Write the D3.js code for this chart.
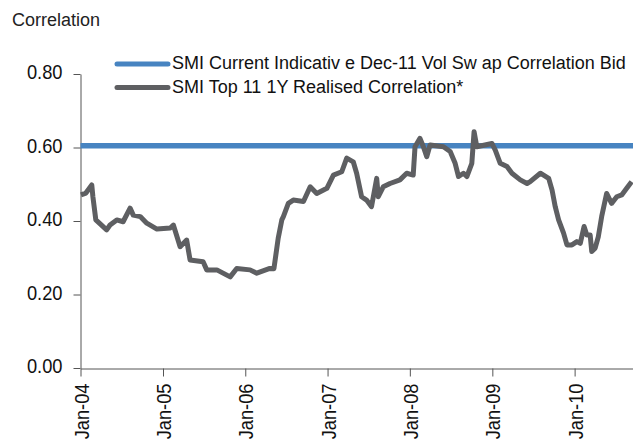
<!DOCTYPE html>
<html lang="en">
<head>
<meta charset="utf-8">
<script src="https://d3js.org/d3.v7.min.js"></script>
<style>
body { margin: 0; background: #fff; }
.axis text { font: 21px "Liberation Sans", Arial, sans-serif; fill: #111; }
.axis path, .axis line { stroke: #555; }
.legend text { font: 18px "Liberation Sans", Arial, sans-serif; fill: #111; }
</style>
</head>
<body>
<svg width="633" height="442"></svg>
<script>
// realised correlation
var realDates = ["2004-01-03","2004-01-25","2004-02-20","2004-02-25","2004-03-09","2004-04-26","2004-05-11",
  "2004-06-10","2004-07-08","2004-08-08","2004-08-22","2004-09-22","2004-10-21","2004-12-05","2005-02-02",
  "2005-02-16","2005-03-18","2005-04-16","2005-05-01","2005-06-28","2005-07-14","2005-08-28","2005-10-26",
  "2005-11-24","2006-01-22","2006-02-21","2006-04-20","2006-05-08","2006-05-27","2006-06-12","2006-06-19",
  "2006-07-11","2006-08-02","2006-09-16","2006-10-16","2006-11-14","2006-12-29","2007-01-27","2007-03-05",
  "2007-03-27","2007-04-25","2007-05-10","2007-06-01","2007-06-23","2007-07-15","2007-08-07","2007-08-14",
  "2007-09-05","2007-10-05","2007-11-18","2007-12-18","2008-01-16","2008-01-24","2008-02-15","2008-03-01",
  "2008-03-16","2008-03-31","2008-05-29","2008-06-28","2008-07-20","2008-08-04","2008-08-26","2008-09-10",
  "2008-10-02","2008-10-12","2008-10-24","2008-12-30","2009-01-14","2009-02-05","2009-03-07","2009-03-29",
  "2009-05-05","2009-06-04","2009-06-18","2009-08-02","2009-09-08","2009-09-23","2009-10-07","2009-10-22",
  "2009-11-13","2009-11-28","2009-12-20","2010-01-11","2010-01-26","2010-02-12","2010-02-24","2010-03-11",
  "2010-03-18","2010-04-02","2010-04-16","2010-05-01","2010-05-23","2010-06-14","2010-07-07","2010-07-29",
  "2010-08-20","2010-09-11"];
var realValues = [0.471,0.476,0.498,0.466,0.403,0.376,0.389,
  0.403,0.398,0.435,0.416,0.412,0.394,0.378,0.381,
  0.389,0.330,0.348,0.294,0.289,0.267,0.267,0.248,
  0.271,0.267,0.258,0.271,0.270,0.353,0.403,0.412,
  0.448,0.457,0.453,0.493,0.475,0.489,0.525,0.534,
  0.571,0.561,0.530,0.466,0.457,0.439,0.516,0.466,
  0.493,0.502,0.512,0.530,0.525,0.602,0.625,0.602,
  0.575,0.607,0.602,0.589,0.557,0.521,0.530,0.521,
  0.557,0.643,0.602,0.611,0.593,0.557,0.548,0.530,
  0.512,0.502,0.507,0.530,0.516,0.484,0.439,0.403,
  0.367,0.335,0.335,0.344,0.339,0.385,0.362,0.362,
  0.317,0.326,0.357,0.412,0.475,0.448,0.466,0.471,
  0.489,0.507];

// indicative vol swap correlation bid (flat)
var bidDates = ["2004-01-01","2010-09-17"];
var bidValues = [0.605, 0.605];

var yTicks = [0, 0.2, 0.4, 0.6, 0.8];
var xTicks = ["2004-01-01","2005-01-01","2006-01-01","2007-01-01","2008-01-01","2009-01-01","2010-01-01"];

var seriesNames = ["SMI Current Indicativ e Dec-11 Vol Sw ap Correlation Bid",
                   "SMI Top 11 1Y Realised Correlation*"];
var seriesColors = ["#4784c1", "#5e5f62"];

var parse = d3.timeParse("%Y-%m-%d");
var svg = d3.select("svg");
var narrow = 0.87; // squeeze tick labels to mimic the condensed face

var x = d3.scaleTime()
    .domain([parse("2004-01-01"), parse("2010-09-17")])
    .range([80.5, 633]);
var y = d3.scaleLinear()
    .domain([0, 0.8])
    .range([368, 74]);

// axis title
svg.append("text")
    .attr("x", 12).attr("y", 26)
    .style("font", "18px 'Liberation Sans', Arial, sans-serif")
    .style("fill", "#222")
    .text("Correlation");

// y axis
svg.append("g")
    .attr("class", "axis")
    .attr("transform", "translate(80.5,0)")
    .call(d3.axisLeft(y).tickValues(yTicks).tickSize(7).tickSizeOuter(0).tickPadding(11)
      .tickFormat(d3.format(".2f")))
  .selectAll("text")
    .attr("transform", "scale(" + narrow + ",1)")
    .attr("x", -18 / narrow)
    .attr("dy", "0.22em");

// x axis
var gx = svg.append("g")
    .attr("class", "axis")
    .attr("transform", "translate(0,368.5)")
    .call(d3.axisBottom(x).tickValues(xTicks.map(parse)).tickSize(8).tickSizeOuter(0)
      .tickFormat(d3.timeFormat("%b-%y")));
gx.selectAll("text")
    .attr("transform", "rotate(-90) scale(" + narrow + ",1)")
    .attr("text-anchor", "end")
    .attr("x", -15 / narrow)
    .attr("y", 0)
    .attr("dy", "0.36em");

var line = d3.line()
    .x(function(d) { return x(d[0]); })
    .y(function(d) { return y(d[1]); });

svg.append("path")
    .datum(bidDates.map(function(d, i) { return [parse(d), bidValues[i]]; }))
    .attr("fill", "none")
    .attr("stroke", seriesColors[0])
    .attr("stroke-width", 5.5)
    .attr("d", line);

svg.append("path")
    .datum(realDates.map(function(d, i) { return [parse(d), realValues[i]]; }))
    .attr("fill", "none")
    .attr("stroke", seriesColors[1])
    .attr("stroke-width", 5)
    .attr("stroke-linejoin", "round")
    .attr("d", line);

// legend
var lg = svg.append("g").attr("class", "legend");
seriesNames.forEach(function(name, i) {
  var cy = 64 + i * 23.5;
  lg.append("line")
      .attr("x1", 117).attr("x2", 168)
      .attr("y1", cy).attr("y2", cy)
      .attr("stroke", seriesColors[i])
      .attr("stroke-width", 5)
      .attr("stroke-linecap", "round");
  lg.append("text")
      .attr("x", 172).attr("y", cy + 5)
      .text(name);
});
</script>
</body>
</html>
